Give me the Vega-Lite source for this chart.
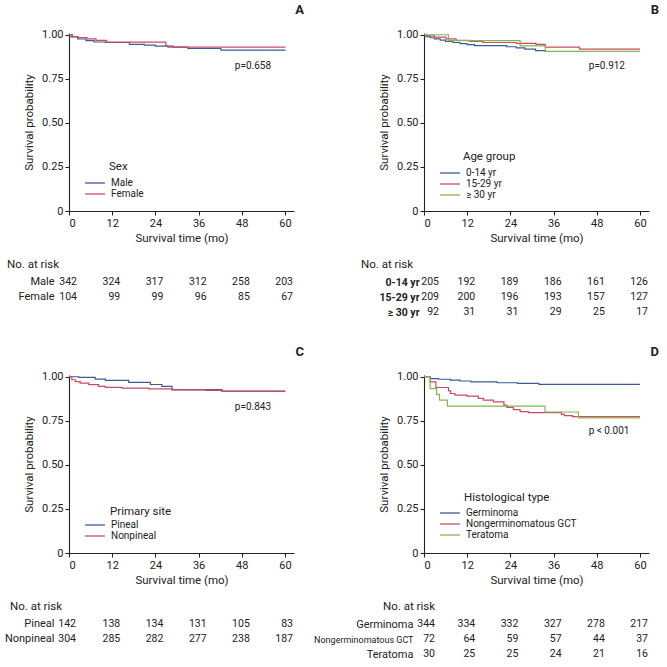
{
  "$schema": "https://vega.github.io/schema/vega-lite/v6.json",
  "padding": {"left": 4, "top": 3, "right": 5, "bottom": 5},
  "background": "white",
  "config": {
    "font": "Roboto",
    "view": {"stroke": null},
    "axis": {"grid": false, "domainColor": "#222", "tickColor": "#222", "labelColor": "#222", "titleColor": "#222", "labelFontSize": 11, "titleFontSize": 11.5, "titleFontWeight": "normal", "tickSize": 4, "labelPadding": 2, "domainWidth": 1.1, "tickWidth": 1.1},
    "legend": {"labelFontSize": 10, "labelColor": "#222", "symbolType": "M-2.2,0H2.2", "symbolSize": 81, "symbolStrokeWidth": 1.3, "labelOffset": 10.5, "rowPadding": 0, "symbolFillColor": "transparent"},
    "title": {"color": "#222"},
    "text": {"color": "#222"}
  },
  "datasets": {
    "kmA": [
      {"g": "Male", "t": 0, "s": 1}, {"g": "Male", "t": 0.6, "s": 0.988}, {"g": "Male", "t": 2.4, "s": 0.976}, {"g": "Male", "t": 4.7, "s": 0.967}, {"g": "Male", "t": 7, "s": 0.959}, {"g": "Male", "t": 10, "s": 0.956}, {"g": "Male", "t": 16.8, "s": 0.946}, {"g": "Male", "t": 20.9, "s": 0.941}, {"g": "Male", "t": 24, "s": 0.936}, {"g": "Male", "t": 29, "s": 0.93}, {"g": "Male", "t": 33, "s": 0.922}, {"g": "Male", "t": 42.2, "s": 0.913}, {"g": "Male", "t": 60, "s": 0.911},
      {"g": "Female", "t": 0, "s": 1}, {"g": "Female", "t": 1, "s": 0.99}, {"g": "Female", "t": 2.5, "s": 0.984}, {"g": "Female", "t": 5, "s": 0.977}, {"g": "Female", "t": 7.5, "s": 0.968}, {"g": "Female", "t": 10.5, "s": 0.958}, {"g": "Female", "t": 26.9, "s": 0.937}, {"g": "Female", "t": 27.5, "s": 0.93}, {"g": "Female", "t": 60, "s": 0.928}
    ],
    "kmB": [
      {"g": "0-14 yr", "t": 0, "s": 1}, {"g": "0-14 yr", "t": 0.6, "s": 0.989}, {"g": "0-14 yr", "t": 1.7, "s": 0.983}, {"g": "0-14 yr", "t": 2.9, "s": 0.977}, {"g": "0-14 yr", "t": 4.5, "s": 0.97}, {"g": "0-14 yr", "t": 6, "s": 0.962}, {"g": "0-14 yr", "t": 8, "s": 0.956}, {"g": "0-14 yr", "t": 10, "s": 0.95}, {"g": "0-14 yr", "t": 12, "s": 0.944}, {"g": "0-14 yr", "t": 14, "s": 0.938}, {"g": "0-14 yr", "t": 23, "s": 0.932}, {"g": "0-14 yr", "t": 25.6, "s": 0.926}, {"g": "0-14 yr", "t": 28, "s": 0.918}, {"g": "0-14 yr", "t": 31, "s": 0.91}, {"g": "0-14 yr", "t": 33.7, "s": 0.905}, {"g": "0-14 yr", "t": 60, "s": 0.905},
      {"g": "15-29 yr", "t": 0, "s": 1}, {"g": "15-29 yr", "t": 0.5, "s": 0.994}, {"g": "15-29 yr", "t": 2.9, "s": 0.987}, {"g": "15-29 yr", "t": 6.1, "s": 0.977}, {"g": "15-29 yr", "t": 8.9, "s": 0.968}, {"g": "15-29 yr", "t": 12.6, "s": 0.962}, {"g": "15-29 yr", "t": 16.3, "s": 0.956}, {"g": "15-29 yr", "t": 25.6, "s": 0.951}, {"g": "15-29 yr", "t": 31.1, "s": 0.945}, {"g": "15-29 yr", "t": 33.7, "s": 0.93}, {"g": "15-29 yr", "t": 43.2, "s": 0.918}, {"g": "15-29 yr", "t": 60, "s": 0.918},
      {"g": "≥ 30 yr", "t": 0, "s": 1}, {"g": "≥ 30 yr", "t": 6.8, "s": 0.967}, {"g": "≥ 30 yr", "t": 26.7, "s": 0.937}, {"g": "≥ 30 yr", "t": 33.7, "s": 0.906}, {"g": "≥ 30 yr", "t": 60, "s": 0.906}
    ],
    "kmC": [
      {"g": "Pineal", "t": 0, "s": 1}, {"g": "Pineal", "t": 2.7, "s": 0.996}, {"g": "Pineal", "t": 7.3, "s": 0.987}, {"g": "Pineal", "t": 10.1, "s": 0.979}, {"g": "Pineal", "t": 16.6, "s": 0.968}, {"g": "Pineal", "t": 22.6, "s": 0.956}, {"g": "Pineal", "t": 25.8, "s": 0.945}, {"g": "Pineal", "t": 28.6, "s": 0.927}, {"g": "Pineal", "t": 42.5, "s": 0.918}, {"g": "Pineal", "t": 60, "s": 0.918},
      {"g": "Nonpineal", "t": 0, "s": 1}, {"g": "Nonpineal", "t": 0.8, "s": 0.983}, {"g": "Nonpineal", "t": 1.75, "s": 0.972}, {"g": "Nonpineal", "t": 3.1, "s": 0.964}, {"g": "Nonpineal", "t": 5.5, "s": 0.955}, {"g": "Nonpineal", "t": 8.2, "s": 0.945}, {"g": "Nonpineal", "t": 10.1, "s": 0.94}, {"g": "Nonpineal", "t": 14.7, "s": 0.935}, {"g": "Nonpineal", "t": 22.1, "s": 0.931}, {"g": "Nonpineal", "t": 28.6, "s": 0.926}, {"g": "Nonpineal", "t": 37.9, "s": 0.923}, {"g": "Nonpineal", "t": 42.5, "s": 0.917}, {"g": "Nonpineal", "t": 60, "s": 0.915}
    ],
    "kmD": [
      {"g": "Germinoma", "t": 0, "s": 1}, {"g": "Germinoma", "t": 1.8, "s": 0.99}, {"g": "Germinoma", "t": 4, "s": 0.986}, {"g": "Germinoma", "t": 7.3, "s": 0.981}, {"g": "Germinoma", "t": 10, "s": 0.976}, {"g": "Germinoma", "t": 13, "s": 0.971}, {"g": "Germinoma", "t": 20.3, "s": 0.966}, {"g": "Germinoma", "t": 25.9, "s": 0.962}, {"g": "Germinoma", "t": 31.9, "s": 0.957}, {"g": "Germinoma", "t": 60, "s": 0.957},
      {"g": "Nongerminomatous GCT", "t": 0, "s": 1}, {"g": "Nongerminomatous GCT", "t": 1.7, "s": 0.971}, {"g": "Nongerminomatous GCT", "t": 3.3, "s": 0.939}, {"g": "Nongerminomatous GCT", "t": 6.8, "s": 0.92}, {"g": "Nongerminomatous GCT", "t": 7.4, "s": 0.905}, {"g": "Nongerminomatous GCT", "t": 8.6, "s": 0.896}, {"g": "Nongerminomatous GCT", "t": 11.9, "s": 0.89}, {"g": "Nongerminomatous GCT", "t": 15.1, "s": 0.877}, {"g": "Nongerminomatous GCT", "t": 16.5, "s": 0.867}, {"g": "Nongerminomatous GCT", "t": 19.3, "s": 0.858}, {"g": "Nongerminomatous GCT", "t": 22.2, "s": 0.839}, {"g": "Nongerminomatous GCT", "t": 23, "s": 0.826}, {"g": "Nongerminomatous GCT", "t": 24.8, "s": 0.814}, {"g": "Nongerminomatous GCT", "t": 26.7, "s": 0.802}, {"g": "Nongerminomatous GCT", "t": 29, "s": 0.796}, {"g": "Nongerminomatous GCT", "t": 38.2, "s": 0.787}, {"g": "Nongerminomatous GCT", "t": 39, "s": 0.78}, {"g": "Nongerminomatous GCT", "t": 41.2, "s": 0.774}, {"g": "Nongerminomatous GCT", "t": 60, "s": 0.774},
      {"g": "Teratoma", "t": 0, "s": 1}, {"g": "Teratoma", "t": 1.7, "s": 0.933}, {"g": "Teratoma", "t": 3.5, "s": 0.9}, {"g": "Teratoma", "t": 4.3, "s": 0.867}, {"g": "Teratoma", "t": 6.5, "s": 0.833}, {"g": "Teratoma", "t": 33.6, "s": 0.8}, {"g": "Teratoma", "t": 42.9, "s": 0.767}, {"g": "Teratoma", "t": 60, "s": 0.767}
    ],
    "riskA": [
      {"g": "Male", "t": 0, "n": 342}, {"g": "Male", "t": 12, "n": 324}, {"g": "Male", "t": 24, "n": 317}, {"g": "Male", "t": 36, "n": 312}, {"g": "Male", "t": 48, "n": 258}, {"g": "Male", "t": 60, "n": 203},
      {"g": "Female", "t": 0, "n": 104}, {"g": "Female", "t": 12, "n": 99}, {"g": "Female", "t": 24, "n": 99}, {"g": "Female", "t": 36, "n": 96}, {"g": "Female", "t": 48, "n": 85}, {"g": "Female", "t": 60, "n": 67}
    ],
    "riskB": [
      {"g": "0-14 yr", "t": 0, "n": 205}, {"g": "0-14 yr", "t": 12, "n": 192}, {"g": "0-14 yr", "t": 24, "n": 189}, {"g": "0-14 yr", "t": 36, "n": 186}, {"g": "0-14 yr", "t": 48, "n": 161}, {"g": "0-14 yr", "t": 60, "n": 126},
      {"g": "15-29 yr", "t": 0, "n": 209}, {"g": "15-29 yr", "t": 12, "n": 200}, {"g": "15-29 yr", "t": 24, "n": 196}, {"g": "15-29 yr", "t": 36, "n": 193}, {"g": "15-29 yr", "t": 48, "n": 157}, {"g": "15-29 yr", "t": 60, "n": 127},
      {"g": "≥ 30 yr", "t": 0, "n": 92}, {"g": "≥ 30 yr", "t": 12, "n": 31}, {"g": "≥ 30 yr", "t": 24, "n": 31}, {"g": "≥ 30 yr", "t": 36, "n": 29}, {"g": "≥ 30 yr", "t": 48, "n": 25}, {"g": "≥ 30 yr", "t": 60, "n": 17}
    ],
    "riskC": [
      {"g": "Pineal", "t": 0, "n": 142}, {"g": "Pineal", "t": 12, "n": 138}, {"g": "Pineal", "t": 24, "n": 134}, {"g": "Pineal", "t": 36, "n": 131}, {"g": "Pineal", "t": 48, "n": 105}, {"g": "Pineal", "t": 60, "n": 83},
      {"g": "Nonpineal", "t": 0, "n": 304}, {"g": "Nonpineal", "t": 12, "n": 285}, {"g": "Nonpineal", "t": 24, "n": 282}, {"g": "Nonpineal", "t": 36, "n": 277}, {"g": "Nonpineal", "t": 48, "n": 238}, {"g": "Nonpineal", "t": 60, "n": 187}
    ],
    "riskD": [
      {"g": "Germinoma", "t": 0, "n": 344}, {"g": "Germinoma", "t": 12, "n": 334}, {"g": "Germinoma", "t": 24, "n": 332}, {"g": "Germinoma", "t": 36, "n": 327}, {"g": "Germinoma", "t": 48, "n": 278}, {"g": "Germinoma", "t": 60, "n": 217},
      {"g": "Nongerminomatous GCT", "t": 0, "n": 72}, {"g": "Nongerminomatous GCT", "t": 12, "n": 64}, {"g": "Nongerminomatous GCT", "t": 24, "n": 59}, {"g": "Nongerminomatous GCT", "t": 36, "n": 57}, {"g": "Nongerminomatous GCT", "t": 48, "n": 44}, {"g": "Nongerminomatous GCT", "t": 60, "n": 37},
      {"g": "Teratoma", "t": 0, "n": 30}, {"g": "Teratoma", "t": 12, "n": 25}, {"g": "Teratoma", "t": 24, "n": 25}, {"g": "Teratoma", "t": 36, "n": 24}, {"g": "Teratoma", "t": 48, "n": 21}, {"g": "Teratoma", "t": 60, "n": 16}
    ]
  },
  "columns": 2,
  "spacing": {"row": 59.5, "column": 130},
  "bounds": "flush",
  "align": "each",
  "resolve": {"scale": {"color": "independent", "x": "independent", "y": "independent"}, "legend": {"color": "independent"}},
  "concat": [
    {
      "width": 225, "height": 178,
      "title": {"text": "A", "anchor": "end", "frame": "group", "dx": 10, "fontSize": 13, "fontWeight": "bold", "offset": 12},
      "layer": [
        {
          "data": {"name": "kmA"},
          "mark": {"type": "line", "interpolate": "step-after", "strokeWidth": 1.2},
          "encoding": {
            "x": {"field": "t", "type": "quantitative", "scale": {"domain": [0, 62.5], "nice": false}, "axis": {"values": [0, 12, 24, 36, 48, 60], "title": "Survival time (mo)", "titlePadding": 4}},
            "y": {"field": "s", "type": "quantitative", "scale": {"domain": [0, 1.01], "nice": false}, "axis": {"values": [0, 0.25, 0.5, 0.75, 1], "labelExpr": "datum.value == 0 ? '0' : format(datum.value, '.2f')", "title": "Survival probability", "titlePadding": 7}},
            "color": {"field": "g", "type": "nominal", "scale": {"domain": ["Male", "Female"], "range": ["#3d5a98", "#cc4b63"]}, "legend": {"title": null, "orient": "none", "legendX": 20.5, "legendY": 144.5}}
          }
        },
        {"data": {"values": [{"p": "p=0.658"}]}, "mark": {"type": "text", "fontSize": 10}, "encoding": {"x": {"datum": 51.1}, "y": {"datum": 0.824}, "text": {"field": "p"}}},
        {"data": {"values": [{"p": "Sex"}]}, "mark": {"type": "text", "align": "left", "fontSize": 11.5}, "encoding": {"x": {"datum": 11.1}, "y": {"datum": 0.25}, "text": {"field": "p"}}}
      ]
    },
    {
      "width": 225, "height": 178,
      "title": {"text": "B", "anchor": "end", "frame": "group", "dx": 10, "fontSize": 13, "fontWeight": "bold", "offset": 12},
      "layer": [
        {
          "data": {"name": "kmB"},
          "mark": {"type": "line", "interpolate": "step-after", "strokeWidth": 1.2},
          "encoding": {
            "x": {"field": "t", "type": "quantitative", "scale": {"domain": [0, 62.5], "nice": false}, "axis": {"values": [0, 12, 24, 36, 48, 60], "title": "Survival time (mo)", "titlePadding": 4}},
            "y": {"field": "s", "type": "quantitative", "scale": {"domain": [0, 1.01], "nice": false}, "axis": {"values": [0, 0.25, 0.5, 0.75, 1], "labelExpr": "datum.value == 0 ? '0' : format(datum.value, '.2f')", "title": "Survival probability", "titlePadding": 7}},
            "color": {"field": "g", "type": "nominal", "scale": {"domain": ["0-14 yr", "15-29 yr", "≥ 30 yr"], "range": ["#3d5a98", "#cc4b63", "#82b74b"]}, "legend": {"title": null, "orient": "none", "legendX": 20.5, "legendY": 134.5}}
          }
        },
        {"data": {"values": [{"p": "p=0.912"}]}, "mark": {"type": "text", "fontSize": 10}, "encoding": {"x": {"datum": 50.8}, "y": {"datum": 0.824}, "text": {"field": "p"}}},
        {"data": {"values": [{"p": "Age group"}]}, "mark": {"type": "text", "align": "left", "fontSize": 11.5}, "encoding": {"x": {"datum": 10.8}, "y": {"datum": 0.307}, "text": {"field": "p"}}}
      ]
    },
    {
      "width": 225, "height": 45,
      "title": {"text": "No. at risk", "anchor": "start", "frame": "group", "dx": -62, "fontSize": 11.5, "fontWeight": "normal", "offset": 0},
      "data": {"name": "riskA"},
      "encoding": {
        "x": {"field": "t", "type": "quantitative", "scale": {"domain": [0, 62.5], "nice": false}, "axis": null},
        "y": {"field": "g", "type": "nominal", "sort": ["Male", "Female"], "scale": {"type": "point", "padding": 1, "align": 0.383}, "axis": {"title": null, "domain": false, "ticks": false, "tickSize": 0, "labelPadding": 15, "labelFontSize": 11}},
        "text": {"field": "n"}
      },
      "layer": [
        {"transform": [{"filter": "datum.t > 0"}], "mark": {"type": "text", "align": "right", "dx": 8, "fontSize": 10.5}},
        {"transform": [{"filter": "datum.t == 0"}], "mark": {"type": "text", "align": "right", "dx": 8, "fontSize": 10.5}}
      ]
    },
    {
      "width": 225, "height": 45,
      "title": {"text": "No. at risk", "anchor": "start", "frame": "group", "dx": -63, "fontSize": 11.5, "fontWeight": "normal", "offset": 0},
      "data": {"name": "riskB"},
      "encoding": {
        "x": {"field": "t", "type": "quantitative", "scale": {"domain": [0, 62.5], "nice": false}, "axis": null},
        "y": {"field": "g", "type": "nominal", "sort": ["0-14 yr", "15-29 yr", "≥ 30 yr"], "scale": {"type": "point", "padding": 0.5, "align": 0.767}, "axis": {"title": null, "domain": false, "ticks": false, "tickSize": 0, "labelPadding": 5, "labelFontSize": 10.5, "labelFontWeight": "bold"}},
        "text": {"field": "n"}
      },
      "layer": [
        {"transform": [{"filter": "datum.t > 0"}], "mark": {"type": "text", "align": "right", "dx": 8, "fontSize": 10.5}},
        {"transform": [{"filter": "datum.t == 0"}], "mark": {"type": "text", "align": "right", "dx": 15, "fontSize": 10.5}}
      ]
    },
    {
      "width": 225, "height": 178,
      "title": {"text": "C", "anchor": "end", "frame": "group", "dx": 10, "fontSize": 13, "fontWeight": "bold", "offset": 12},
      "layer": [
        {
          "data": {"name": "kmC"},
          "mark": {"type": "line", "interpolate": "step-after", "strokeWidth": 1.2},
          "encoding": {
            "x": {"field": "t", "type": "quantitative", "scale": {"domain": [0, 62.5], "nice": false}, "axis": {"values": [0, 12, 24, 36, 48, 60], "title": "Survival time (mo)", "titlePadding": 4}},
            "y": {"field": "s", "type": "quantitative", "scale": {"domain": [0, 1.01], "nice": false}, "axis": {"values": [0, 0.25, 0.5, 0.75, 1], "labelExpr": "datum.value == 0 ? '0' : format(datum.value, '.2f')", "title": "Survival probability", "titlePadding": 7}},
            "color": {"field": "g", "type": "nominal", "scale": {"domain": ["Pineal", "Nonpineal"], "range": ["#3d5a98", "#cc4b63"]}, "legend": {"title": null, "orient": "none", "legendX": 20.5, "legendY": 144.5}}
          }
        },
        {"data": {"values": [{"p": "p=0.843"}]}, "mark": {"type": "text", "fontSize": 10}, "encoding": {"x": {"datum": 51.1}, "y": {"datum": 0.829}, "text": {"field": "p"}}},
        {"data": {"values": [{"p": "Primary site"}]}, "mark": {"type": "text", "align": "left", "fontSize": 11.5}, "encoding": {"x": {"datum": 11.4}, "y": {"datum": 0.234}, "text": {"field": "p"}}}
      ]
    },
    {
      "width": 225, "height": 178,
      "title": {"text": "D", "anchor": "end", "frame": "group", "dx": 10, "fontSize": 13, "fontWeight": "bold", "offset": 12},
      "layer": [
        {
          "data": {"name": "kmD"},
          "mark": {"type": "line", "interpolate": "step-after", "strokeWidth": 1.2},
          "encoding": {
            "x": {"field": "t", "type": "quantitative", "scale": {"domain": [0, 62.5], "nice": false}, "axis": {"values": [0, 12, 24, 36, 48, 60], "title": "Survival time (mo)", "titlePadding": 4}},
            "y": {"field": "s", "type": "quantitative", "scale": {"domain": [0, 1.01], "nice": false}, "axis": {"values": [0, 0.25, 0.5, 0.75, 1], "labelExpr": "datum.value == 0 ? '0' : format(datum.value, '.2f')", "title": "Survival probability", "titlePadding": 7}},
            "color": {"field": "g", "type": "nominal", "scale": {"domain": ["Germinoma", "Nongerminomatous GCT", "Teratoma"], "range": ["#3d5a98", "#cc4b63", "#82b74b"]}, "legend": {"title": null, "orient": "none", "legendX": 20.5, "legendY": 132.5}}
          }
        },
        {"data": {"values": [{"p": "p < 0.001"}]}, "mark": {"type": "text", "fontSize": 10}, "encoding": {"x": {"datum": 51.4}, "y": {"datum": 0.69}, "text": {"field": "p"}}},
        {"data": {"values": [{"p": "Histological type"}]}, "mark": {"type": "text", "align": "left", "fontSize": 11.5}, "encoding": {"x": {"datum": 11.1}, "y": {"datum": 0.314}, "text": {"field": "p"}}}
      ]
    },
    {
      "width": 225, "height": 45,
      "title": {"text": "No. at risk", "anchor": "start", "frame": "group", "dx": -59, "fontSize": 11.5, "fontWeight": "normal", "offset": 0},
      "data": {"name": "riskC"},
      "encoding": {
        "x": {"field": "t", "type": "quantitative", "scale": {"domain": [0, 62.5], "nice": false}, "axis": null},
        "y": {"field": "g", "type": "nominal", "sort": ["Pineal", "Nonpineal"], "scale": {"type": "point", "padding": 1, "align": 0.383}, "axis": {"title": null, "domain": false, "ticks": false, "tickSize": 0, "labelPadding": 15, "labelFontSize": 11}},
        "text": {"field": "n"}
      },
      "layer": [
        {"transform": [{"filter": "datum.t > 0"}], "mark": {"type": "text", "align": "right", "dx": 8, "fontSize": 10.5}},
        {"transform": [{"filter": "datum.t == 0"}], "mark": {"type": "text", "align": "right", "dx": 7, "fontSize": 10.5}}
      ]
    },
    {
      "width": 225, "height": 45,
      "title": {"text": "No. at risk", "anchor": "start", "frame": "group", "dx": -41, "fontSize": 11.5, "fontWeight": "normal", "offset": 0},
      "data": {"name": "riskD"},
      "encoding": {
        "x": {"field": "t", "type": "quantitative", "scale": {"domain": [0, 62.5], "nice": false}, "axis": null},
        "y": {"field": "g", "type": "nominal", "sort": ["Germinoma", "Nongerminomatous GCT", "Teratoma"], "scale": {"type": "point", "padding": 0.5, "align": 0.767}, "axis": {"title": null, "domain": false, "ticks": false, "tickSize": 0, "labelPadding": 11, "labelLimit": 200, "labelFontSize": {"condition": {"test": "datum.value === 'Nongerminomatous GCT'", "value": 9}, "value": 11}}},
        "text": {"field": "n"}
      },
      "layer": [
        {"transform": [{"filter": "datum.t > 0"}], "mark": {"type": "text", "align": "right", "dx": 8, "fontSize": 10.5}},
        {"transform": [{"filter": "datum.t == 0"}], "mark": {"type": "text", "align": "right", "dx": 11, "fontSize": 10.5}}
      ]
    }
  ]
}
